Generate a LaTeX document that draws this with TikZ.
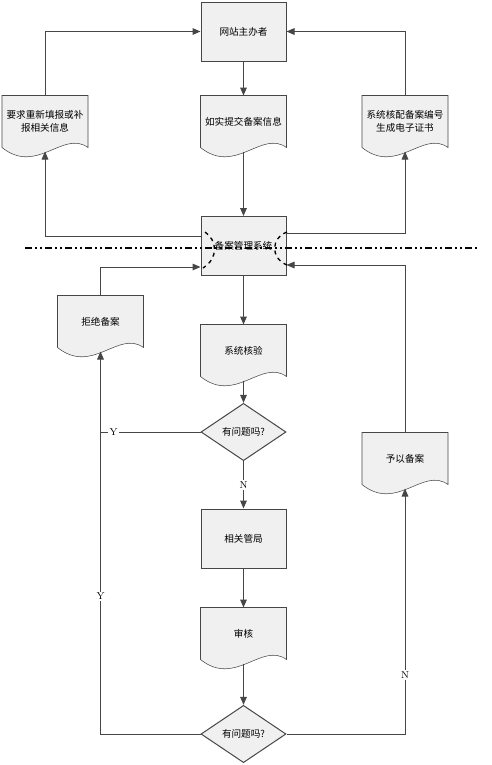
\documentclass[tikz,border=0pt]{standalone}
\usepackage{fontspec}
\newfontfamily\cjk{Noto Sans CJK SC}
\usetikzlibrary{shapes.geometric,arrows.meta,calc,backgrounds}
\definecolor{boxfill}{RGB}{240,240,240}
\definecolor{linegray}{RGB}{70,70,70}

\tikzset{every picture/.style={line width=0.75pt}}
\tikzset{
  proc/.style={draw=linegray, fill=boxfill, minimum width=63.75pt, minimum height=44.25pt, inner sep=0pt, font=\cjk\fontsize{7.2}{10}\selectfont, align=center},
  docu/.style={minimum width=63.75pt, minimum height=38.25pt, inner sep=0pt, font=\cjk\fontsize{7.2}{10}\selectfont, align=center},
  decide/.style={diamond, draw=linegray, fill=boxfill, minimum width=63.75pt, minimum height=43pt, inner sep=0pt, aspect=1.5, font=\cjk\fontsize{7.2}{10}\selectfont},
  arr/.style={draw=linegray, -{Triangle[length=6pt,width=5pt]}},
  conn/.style={draw=linegray},
  yn/.style={fill=white, inner sep=1pt, font=\fontsize{7.5}{8}\selectfont}
}

\begin{document}
\begin{tikzpicture}[x=0.75pt,y=0.75pt,yscale=-1,xscale=1]
\useasboundingbox (0,0) rectangle (492,765);

% Process boxes
\node[proc] (host) at (243.5,31.5) {网站主办者};
\node[proc] (sys) at (243.5,246) {备案管理系统};
\node[proc] (dept) at (243.5,538.5) {相关管局};

% Documents
\node[docu] (req) at (45,121.5) {要求重新填报或补\\报相关信息};
\node[docu] (submit) at (243.5,121.5) {如实提交备案信息};
\node[docu] (cert) at (405,121.5) {系统核配备案编号\\生成电子证书};
\node[docu] (reject) at (100.5,321.5) {拒绝备案};
\node[docu] (check) at (243.5,350.5) {系统核验};
\node[docu] (audit) at (243.5,633.5) {审核};
\node[docu] (grant) at (405,458.5) {予以备案};

% Decisions
\node[decide] (dec1) at (243.5,432) {有问题吗?};
\node[decide] (dec2) at (243.5,734) {有问题吗?};

% document outlines with wavy bottom
\begin{scope}[on background layer]
\foreach \n in {req,submit,cert,reject,check,audit,grant}
  \draw[linegray, fill=boxfill] (\n.north west) -- (\n.north east) -- (\n.south east)
    .. controls ($(\n.south east)+(-25,-18)$) and ($(\n.south west)+(35,28)$) .. (\n.south west) -- cycle;
\end{scope}

% upper part
\draw[arr] (host) -- (submit);
\draw[arr] ([yshift=3pt]submit.south) -- (sys);
\draw[arr] ([yshift=-7.5pt]sys.west) -| ([yshift=3pt]req.south);
\draw[arr] ([yshift=-9.75pt]sys.east) -| ([yshift=3pt]cert.south);
\draw[arr] (req.north) |- (host.west);
\draw[arr] (cert.north) |- (host.east);

% lower part
\draw[arr] (sys) -- (check);
\draw[arr] ([yshift=3pt]check.south) -- (dec1);
\draw[arr] (dec1) -- (dept) node[yn, midway] (n1) {N};
\draw[arr] (dept) -- (audit);
\draw[arr] ([yshift=3pt]audit.south) -- (dec2);
\draw[conn] (dec1.west) -- (dec1.west -| reject.south) node[yn, pos=0.87] (y1) {Y};
\draw[arr] (dec2.west) -| ([yshift=3pt]reject.south) node[yn, pos=0.68] (y2) {Y};
\draw[arr] (dec2.east) -| ([yshift=3pt]grant.south) node[yn, pos=0.62] (n2) {N};
\draw[arr] (reject.north) |- ([yshift=15.75pt]sys.west);
\draw[arr] (grant.north) |- ([yshift=14.25pt]sys.east);

% boundary line
\coordinate (bl) at (25,248);
\coordinate (br) at (478,248);
\draw[black, line width=1.5pt, dash pattern={on 5.25pt off 2.25pt on 1.5pt off 2.25pt on 1.5pt off 2.25pt}] (bl) -- (br);

% dashed arcs on the system box
\draw[black, line width=1pt, dashed] (205,232) .. controls (217,240) and (219,258) .. (203,268);
\draw[black, line width=1pt, dashed] (287,232) .. controls (271,238) and (270,258) .. (287,265);

\end{tikzpicture}
\end{document}
